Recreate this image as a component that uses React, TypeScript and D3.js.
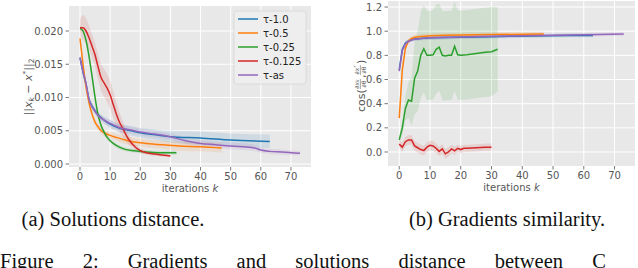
import * as d3 from "d3";

// iterations k on both panels
const kTicks = [0, 10, 20, 30, 40, 50, 60, 70];
const distTicks = [0, 0.005, 0.01, 0.015, 0.02];
const cosTicks = [0, 0.2, 0.4, 0.6, 0.8, 1.0, 1.2];

const seriesNames = ["τ-1.0", "τ-0.5", "τ-0.25", "τ-0.125", "τ-as"];
const seriesColors = ["#1f77b4", "#ff7f0e", "#2ca02c", "#d62728", "#9467bd"];

// (a) solutions distance: [k, mean, std]
const distTau10 = [
  [0, 0.016, 0.0004], [1, 0.0138, 0.0005], [2, 0.012, 0.0005], [3, 0.0097, 0.0005],
  [4, 0.0087, 0.0005], [5, 0.008, 0.0005], [6, 0.0074, 0.0005], [8, 0.0066, 0.0005],
  [10, 0.006, 0.0006], [13, 0.0054, 0.0006], [17, 0.005, 0.0007], [20, 0.0047, 0.0007],
  [25, 0.0044, 0.0008], [30, 0.0041, 0.0009], [40, 0.0039, 0.001], [50, 0.0036, 0.001],
  [63, 0.0034, 0.001],
];
const distTau05 = [
  [0, 0.0189, 0.0004], [1, 0.015, 0.0006], [2, 0.0116, 0.0006], [3, 0.0092, 0.0006],
  [4, 0.0075, 0.0005], [5, 0.0063, 0.0005], [6, 0.0056, 0.0005], [7, 0.005, 0.0005],
  [8, 0.0047, 0.0005], [10, 0.0043, 0.0005], [12, 0.004, 0.0005], [15, 0.0036, 0.0006],
  [18, 0.0033, 0.0006], [22, 0.0031, 0.0006], [27, 0.0029, 0.0006], [33, 0.0027, 0.0007],
  [40, 0.0026, 0.0007], [47, 0.0024, 0.0007],
];
const distTau025 = [
  [0, 0.0204, 0.0003], [1, 0.02, 0.0004], [2, 0.0186, 0.0005], [3, 0.0162, 0.0005],
  [4, 0.0132, 0.0005], [5, 0.01, 0.0005], [6, 0.0074, 0.0005], [7, 0.0058, 0.0004],
  [8, 0.0048, 0.0004], [9, 0.004, 0.0003], [10, 0.0035, 0.0003], [12, 0.0028, 0.0003],
  [15, 0.0022, 0.0003], [18, 0.002, 0.0003], [22, 0.0018, 0.0003], [26, 0.0017, 0.0003],
  [32, 0.0017, 0.0003],
];
const distTau0125 = [
  [0, 0.0205, 0.0012], [1, 0.0205, 0.0019], [2, 0.02, 0.0019], [3, 0.019, 0.0018],
  [4, 0.0177, 0.0018], [5, 0.0164, 0.0018], [6, 0.0146, 0.0019], [7, 0.013, 0.002],
  [8, 0.0122, 0.0021], [9, 0.0114, 0.0021], [10, 0.0104, 0.0021], [11, 0.009, 0.002],
  [12, 0.0076, 0.0018], [13, 0.0064, 0.0015], [14, 0.0055, 0.0012], [15, 0.0046, 0.001],
  [16, 0.0038, 0.0008], [17, 0.0032, 0.0006], [18, 0.0027, 0.0005], [19, 0.0023, 0.0004],
  [20, 0.002, 0.0004], [22, 0.0017, 0.0003], [25, 0.0015, 0.0003], [28, 0.0013, 0.0002],
  [30, 0.0012, 0.0002],
];
const distTauAs = [
  [0, 0.016, 0.0004], [1, 0.0139, 0.0005], [2, 0.0121, 0.0005], [3, 0.0097, 0.0005],
  [4, 0.0086, 0.0005], [5, 0.0079, 0.0005], [6, 0.0073, 0.0005], [8, 0.0066, 0.0005],
  [10, 0.0061, 0.0005], [13, 0.0055, 0.0005], [17, 0.0051, 0.0005], [20, 0.0048, 0.0005],
  [25, 0.0045, 0.0005], [28, 0.0043, 0.0005], [30, 0.0041, 0.0005], [35, 0.0035, 0.0005],
  [40, 0.0031, 0.0005], [45, 0.0029, 0.0005], [50, 0.0027, 0.0005], [57, 0.0025, 0.0005],
  [58, 0.0024, 0.0005], [60, 0.0021, 0.0004], [63, 0.0019, 0.0004], [67, 0.0018, 0.0004],
  [73, 0.0016, 0.0003],
];

// (b) gradients similarity: [k, mean, std]
const cosTau10 = [
  [0, 0.68, 0.02], [1, 0.85, 0.02], [2, 0.9, 0.02], [3, 0.92, 0.015], [4, 0.93, 0.015],
  [5, 0.935, 0.015], [7, 0.94, 0.015], [10, 0.945, 0.015], [20, 0.95, 0.015],
  [30, 0.955, 0.015], [42, 0.96, 0.015], [55, 0.965, 0.015], [63, 0.965, 0.015],
];
const cosTau05 = [
  [0, 0.28, 0.03], [1, 0.68, 0.05], [2, 0.86, 0.03], [3, 0.92, 0.02], [4, 0.94, 0.02],
  [5, 0.95, 0.02], [7, 0.957, 0.02], [10, 0.962, 0.02], [15, 0.966, 0.02], [20, 0.968, 0.02],
  [30, 0.972, 0.02], [40, 0.975, 0.02], [47, 0.976, 0.02],
];
const cosTau025 = [
  [0, 0.1, 0.03], [1, 0.2, 0.06], [2, 0.36, 0.1], [3, 0.43, 0.15], [4, 0.42, 0.2],
  [5, 0.61, 0.3], [6, 0.67, 0.33], [7, 0.8, 0.36], [8, 0.855, 0.36], [9, 0.8, 0.37],
  [10, 0.8, 0.37], [11, 0.805, 0.37], [12, 0.85, 0.37], [13, 0.868, 0.36], [14, 0.8, 0.37],
  [15, 0.795, 0.37], [16, 0.8, 0.37], [17, 0.8, 0.37], [18, 0.875, 0.37], [19, 0.805, 0.37],
  [20, 0.8, 0.37], [22, 0.805, 0.37], [25, 0.815, 0.37], [28, 0.825, 0.37], [30, 0.83, 0.37],
  [31, 0.84, 0.36], [32, 0.85, 0.35],
];
const cosTau0125 = [
  [0, 0.065, 0.03], [1, 0.04, 0.04], [2, 0.085, 0.04], [3, 0.1, 0.04], [4, 0.1, 0.04],
  [5, 0.05, 0.04], [6, 0.035, 0.04], [7, 0.02, 0.04], [8, 0.012, 0.04], [9, 0.04, 0.04],
  [10, 0.055, 0.04], [11, 0.05, 0.04], [12, 0.03, 0.04], [13, 0.005, 0.04], [14, 0.025, 0.04],
  [15, -0.015, 0.04], [16, 0.0, 0.04], [17, 0.025, 0.035], [18, 0.01, 0.035], [19, 0.03, 0.03],
  [20, 0.02, 0.03], [21, 0.03, 0.03], [22, 0.03, 0.03], [25, 0.035, 0.03], [28, 0.04, 0.03],
  [30, 0.04, 0.03],
];
const cosTauAs = [
  [0, 0.67, 0.02], [1, 0.84, 0.02], [2, 0.895, 0.02], [3, 0.915, 0.015], [4, 0.927, 0.015],
  [5, 0.933, 0.015], [7, 0.94, 0.015], [10, 0.945, 0.015], [20, 0.952, 0.015],
  [30, 0.958, 0.015], [40, 0.962, 0.015], [50, 0.966, 0.015], [60, 0.97, 0.015],
  [73, 0.977, 0.015],
];

const distSeries = [distTau10, distTau05, distTau025, distTau0125, distTauAs];
const cosSeries = [cosTau10, cosTau05, cosTau025, cosTau0125, cosTauAs];

const tickColor = "#555";
const bg = "#E8E8E8";
const font = "DejaVu Sans";

type Box = { left: number; right: number; top: number; bottom: number };

const Panel = ({
  box,
  yDomain,
  yTicks,
  yFormat,
  series,
  curve,
}: {
  box: Box;
  yDomain: [number, number];
  yTicks: number[];
  yFormat: (v: number) => string;
  series: number[][][];
  curve: d3.CurveFactory;
}) => {
  const x = d3.scaleLinear().domain([-3.65, 76.65]).range([box.left, box.right]);
  const y = d3.scaleLinear().domain(yDomain).range([box.bottom, box.top]);

  const line = d3
    .line<number[]>()
    .x((d) => x(d[0]))
    .y((d) => y(d[1]))
    .curve(curve);
  const area = d3
    .area<number[]>()
    .x((d) => x(d[0]))
    .y0((d) => y(d[1] - d[2]))
    .y1((d) => y(d[1] + d[2]))
    .curve(curve);

  return (
    <g>
      <rect
        x={box.left}
        y={box.top}
        width={box.right - box.left}
        height={box.bottom - box.top}
        fill={bg}
      />
      {kTicks.map((t) => (
        <line key={"gx" + t} x1={x(t)} x2={x(t)} y1={box.top} y2={box.bottom} stroke="#fff" strokeWidth={1} />
      ))}
      {yTicks.map((t) => (
        <line key={"gy" + t} x1={box.left} x2={box.right} y1={y(t)} y2={y(t)} stroke="#fff" strokeWidth={1} />
      ))}
      {series.map((s, i) => (
        <path key={"b" + i} d={area(s) ?? ""} fill={seriesColors[i]} opacity={0.12} />
      ))}
      {series.map((s, i) => (
        <path key={"l" + i} d={line(s) ?? ""} fill="none" stroke={seriesColors[i]} strokeWidth={1.5} />
      ))}
      {kTicks.map((t) => (
        <g key={"tx" + t}>
          <line x1={x(t)} x2={x(t)} y1={box.bottom} y2={box.bottom + 3.5} stroke={tickColor} strokeWidth={0.8} />
          <text x={x(t)} y={box.bottom + 13} textAnchor="middle" fontSize={10} fill={tickColor} fontFamily={font}>
            {t}
          </text>
        </g>
      ))}
      {yTicks.map((t) => (
        <g key={"ty" + t}>
          <line x1={box.left - 3.5} x2={box.left} y1={y(t)} y2={y(t)} stroke={tickColor} strokeWidth={0.8} />
          <text x={box.left - 6} y={y(t) + 3.6} textAnchor="end" fontSize={10} fill={tickColor} fontFamily={font}>
            {yFormat(t)}
          </text>
        </g>
      ))}
      <text
        x={(box.left + box.right) / 2}
        y={box.bottom + 25}
        textAnchor="middle"
        fontSize={10}
        fill={tickColor}
        fontFamily={font}
      >
        iterations <tspan fontStyle="italic">k</tspan>
      </text>
    </g>
  );
};

const Legend = ({ left, top }: { left: number; top: number }) => (
  <g>
    <rect x={left} y={top} width={72} height={73} rx={3} fill="#EEEEEE" stroke="#D6D6D6" strokeWidth={0.8} />
    {seriesNames.map((name, i) => (
      <g key={name}>
        <line
          x1={left + 4}
          x2={left + 24}
          y1={top + 8 + i * 14}
          y2={top + 8 + i * 14}
          stroke={seriesColors[i]}
          strokeWidth={1.5}
        />
        <text x={left + 29} y={top + 11.5 + i * 14} fontSize={10} fontFamily={font} fill="#222">
          {name}
        </text>
      </g>
    ))}
  </g>
);

const App = () => {
  const leftBox = { left: 69, right: 311, top: 6, bottom: 167 };
  const rightBox = { left: 388, right: 635, top: 1, bottom: 166 };

  return (
    <svg
      width={638}
      height={268}
      style={{ position: "absolute", left: 0, top: 0, background: "#fff" }}
    >
      <Panel
        box={leftBox}
        yDomain={[-0.00045, 0.02376]}
        yTicks={distTicks}
        yFormat={d3.format(".3f")}
        series={distSeries}
        curve={d3.curveMonotoneX}
      />
      <Legend left={234} top={11} />
      <Panel
        box={rightBox}
        yDomain={[-0.116, 1.25]}
        yTicks={cosTicks}
        yFormat={d3.format(".1f")}
        series={cosSeries}
        curve={d3.curveLinear}
      />

      {/* y label, left */}
      <g transform="translate(32,87) rotate(-90)">
        <text textAnchor="middle" fontSize={11} fill={tickColor} fontFamily={font}>
          ||<tspan fontStyle="italic">x</tspan>
          <tspan fontSize={7.5} fontStyle="italic" dy={2}>k</tspan>
          <tspan dy={-2}> − </tspan>
          <tspan fontStyle="italic">x</tspan>
          <tspan fontSize={7.5} dy={-4}>*</tspan>
          <tspan dy={4}>||</tspan>
          <tspan fontSize={7.5} dy={2}>2</tspan>
        </text>
      </g>

      {/* y label, right */}
      <g transform="translate(361,87) rotate(-90)" fill={tickColor} fontFamily={font}>
        <text x={-25} y={3.5} fontSize={11}>cos(</text>
        <text x={3} y={-2} fontSize={6} textAnchor="middle">
          ∂<tspan fontStyle="italic">x</tspan><tspan fontSize={4.5} fontStyle="italic">k</tspan>
        </text>
        <line x1={-2} x2={8} y1={-0.6} y2={-0.6} stroke={tickColor} strokeWidth={0.5} />
        <text x={3} y={5} fontSize={6} textAnchor="middle">∂θ</text>
        <text x={9} y={3.5} fontSize={11}>,</text>
        <text x={17} y={-2} fontSize={6} textAnchor="middle">
          ∂<tspan fontStyle="italic">x</tspan><tspan fontSize={4.5} dy={-2}>*</tspan>
        </text>
        <line x1={12} x2={22} y1={-0.6} y2={-0.6} stroke={tickColor} strokeWidth={0.5} />
        <text x={17} y={5} fontSize={6} textAnchor="middle">∂θ</text>
        <text x={23} y={3.5} fontSize={11}>)</text>
      </g>

      {/* captions */}
      <g fontFamily="Liberation Serif" fill="#111" fontSize={20.5}>
        <text x={113} y={226} textAnchor="middle">(a) Solutions distance.</text>
        <text x={507} y={226} textAnchor="middle">(b) Gradients similarity.</text>
        <text x={0} y={268} wordSpacing={24}>
          Figure 2: Gradients and solutions distance between C
        </text>
      </g>
    </svg>
  );
};

export default App;
